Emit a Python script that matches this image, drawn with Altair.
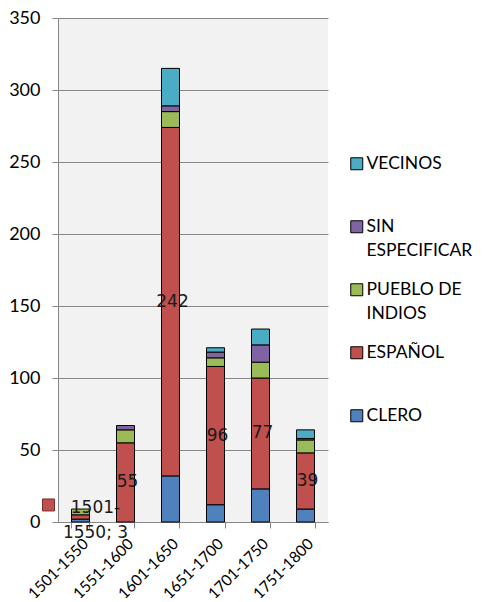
import altair as alt
import pandas as pd

periods = ["1501-1550", "1551-1600", "1601-1650", "1651-1700", "1701-1750", "1751-1800"]
series = ["CLERO", "ESPAÑOL", "PUEBLO DE INDIOS", "SIN ESPECIFICAR", "VECINOS"]
clero = [2, 0, 32, 12, 23, 9]
espanol = [3, 55, 242, 96, 77, 39]
pueblo = [4, 9, 11, 6, 11, 9]
sin_especificar = [0, 3, 4, 4, 12, 1]
vecinos = [0, 0, 26, 3, 11, 6]
colors = ["#4F81BD", "#C0504D", "#9BBB59", "#8064A2", "#4BACC6"]
y_ticks = [0, 50, 100, 150, 200, 250, 300, 350]

values = [clero, espanol, pueblo, sin_especificar, vecinos]
rows = []
for si, s in enumerate(series):
    for pi, p in enumerate(periods):
        rows.append({"period": p, "series": s, "ord": si, "value": values[si][pi]})
df = pd.DataFrame(rows)
df = df[df["value"] > 0]

legend_order = series[::-1]
legend_colors = colors[::-1]

xenc = alt.X("period:N", sort=periods,
             scale=alt.Scale(paddingInner=0.6, paddingOuter=0.3),
             axis=alt.Axis(title=None, labelAngle=-45, labelAlign="right", labelBaseline="top",
                           labelFont="Lato", labelFontSize=15.5, labelOffset=0,
                           labelLineHeight=16,
                           labelColor="#000000", domainColor="#868686", tickColor="#868686",
                           tickBand="extent", tickSize=6, labelPadding=8))

bars = alt.Chart(df).mark_bar(stroke="#000000", strokeWidth=1).encode(
    x=xenc,
    y=alt.Y("value:Q", stack="zero",
            scale=alt.Scale(domain=[0, 350], nice=False),
            axis=alt.Axis(title=None, values=y_ticks, labelFont="Lato", labelFontSize=18,
                          labelLineHeight=18,
                          labelColor="#000000", domainColor="#868686", tickColor="#868686",
                          gridColor="#868686", gridWidth=1, tickSize=6, labelPadding=12)),
    color=alt.Color("series:N",
                    scale=alt.Scale(domain=legend_order, range=legend_colors),
                    legend=alt.Legend(title=None, orient="none", legendX=290, legendY=137,
                                      symbolType="square", symbolSize=144,
                                      symbolStrokeColor="#000000", symbolStrokeWidth=1,
                                      labelFont="Lato", labelFontSize=17.5, labelColor="#000000",
                                      labelOffset=1, rowPadding=20, padding=0,
                                      labelExpr="datum.label == 'SIN ESPECIFICAR' ? ['SIN', 'ESPECIFICAR'] : datum.label == 'PUEBLO DE INDIOS' ? ['PUEBLO DE', 'INDIOS'] : [datum.label, ' ']")),
    order=alt.Order("ord:Q", sort="ascending"),
)

stacked = alt.Chart(df).transform_stack(
    stack="value", groupby=["period"], sort=[alt.SortField("ord", order="ascending")],
    as_=["v0", "v1"]
).transform_calculate(
    mid="(datum.v0 + datum.v1) / 2"
).transform_filter("datum.series == 'ESPAÑOL'")

labels = stacked.transform_filter("datum.period != '1501-1550'").mark_text(
    font="DejaVu Sans", fontSize=17, color="#1a1a1a", baseline="middle", dx=2
).encode(
    x=alt.X("period:N", sort=periods),
    y=alt.Y("mid:Q"),
    text=alt.Text("value:Q"),
)

first = stacked.transform_filter("datum.period == '1501-1550'").transform_calculate(
    lbl="replace(datum.period, '-', '-\\n') + '; ' + datum.value"
)

first_text = first.mark_text(
    font="DejaVu Sans", fontSize=17, color="#1a1a1a", baseline="middle", align="center",
    dx=15, dy=-9, lineBreak="\n", lineHeight=25
).encode(
    x=alt.X("period:N", sort=periods),
    y=alt.Y("mid:Q"),
    text=alt.Text("lbl:N"),
)

first_key = first.mark_square(
    size=144, filled=True, color="#C0504D", stroke="#7a2e2c", strokeWidth=1,
    xOffset=-32, yOffset=-12, opacity=1
).encode(
    x=alt.X("period:N", sort=periods),
    y=alt.Y("mid:Q"),
)

chart = alt.layer(bars, labels, first_text, first_key).properties(
    width=270, height=504,
    autosize=alt.AutoSizeParams(type="none"),
    padding={"left": 50, "top": 10, "right": 157, "bottom": 76},
).configure(
    style={"guide-label": {"lineHeight": 24}}
).configure_view(fill="#f2f2f2", strokeWidth=0)

chart.save("out.html", embed_options={"renderer": "svg", "actions": False})
